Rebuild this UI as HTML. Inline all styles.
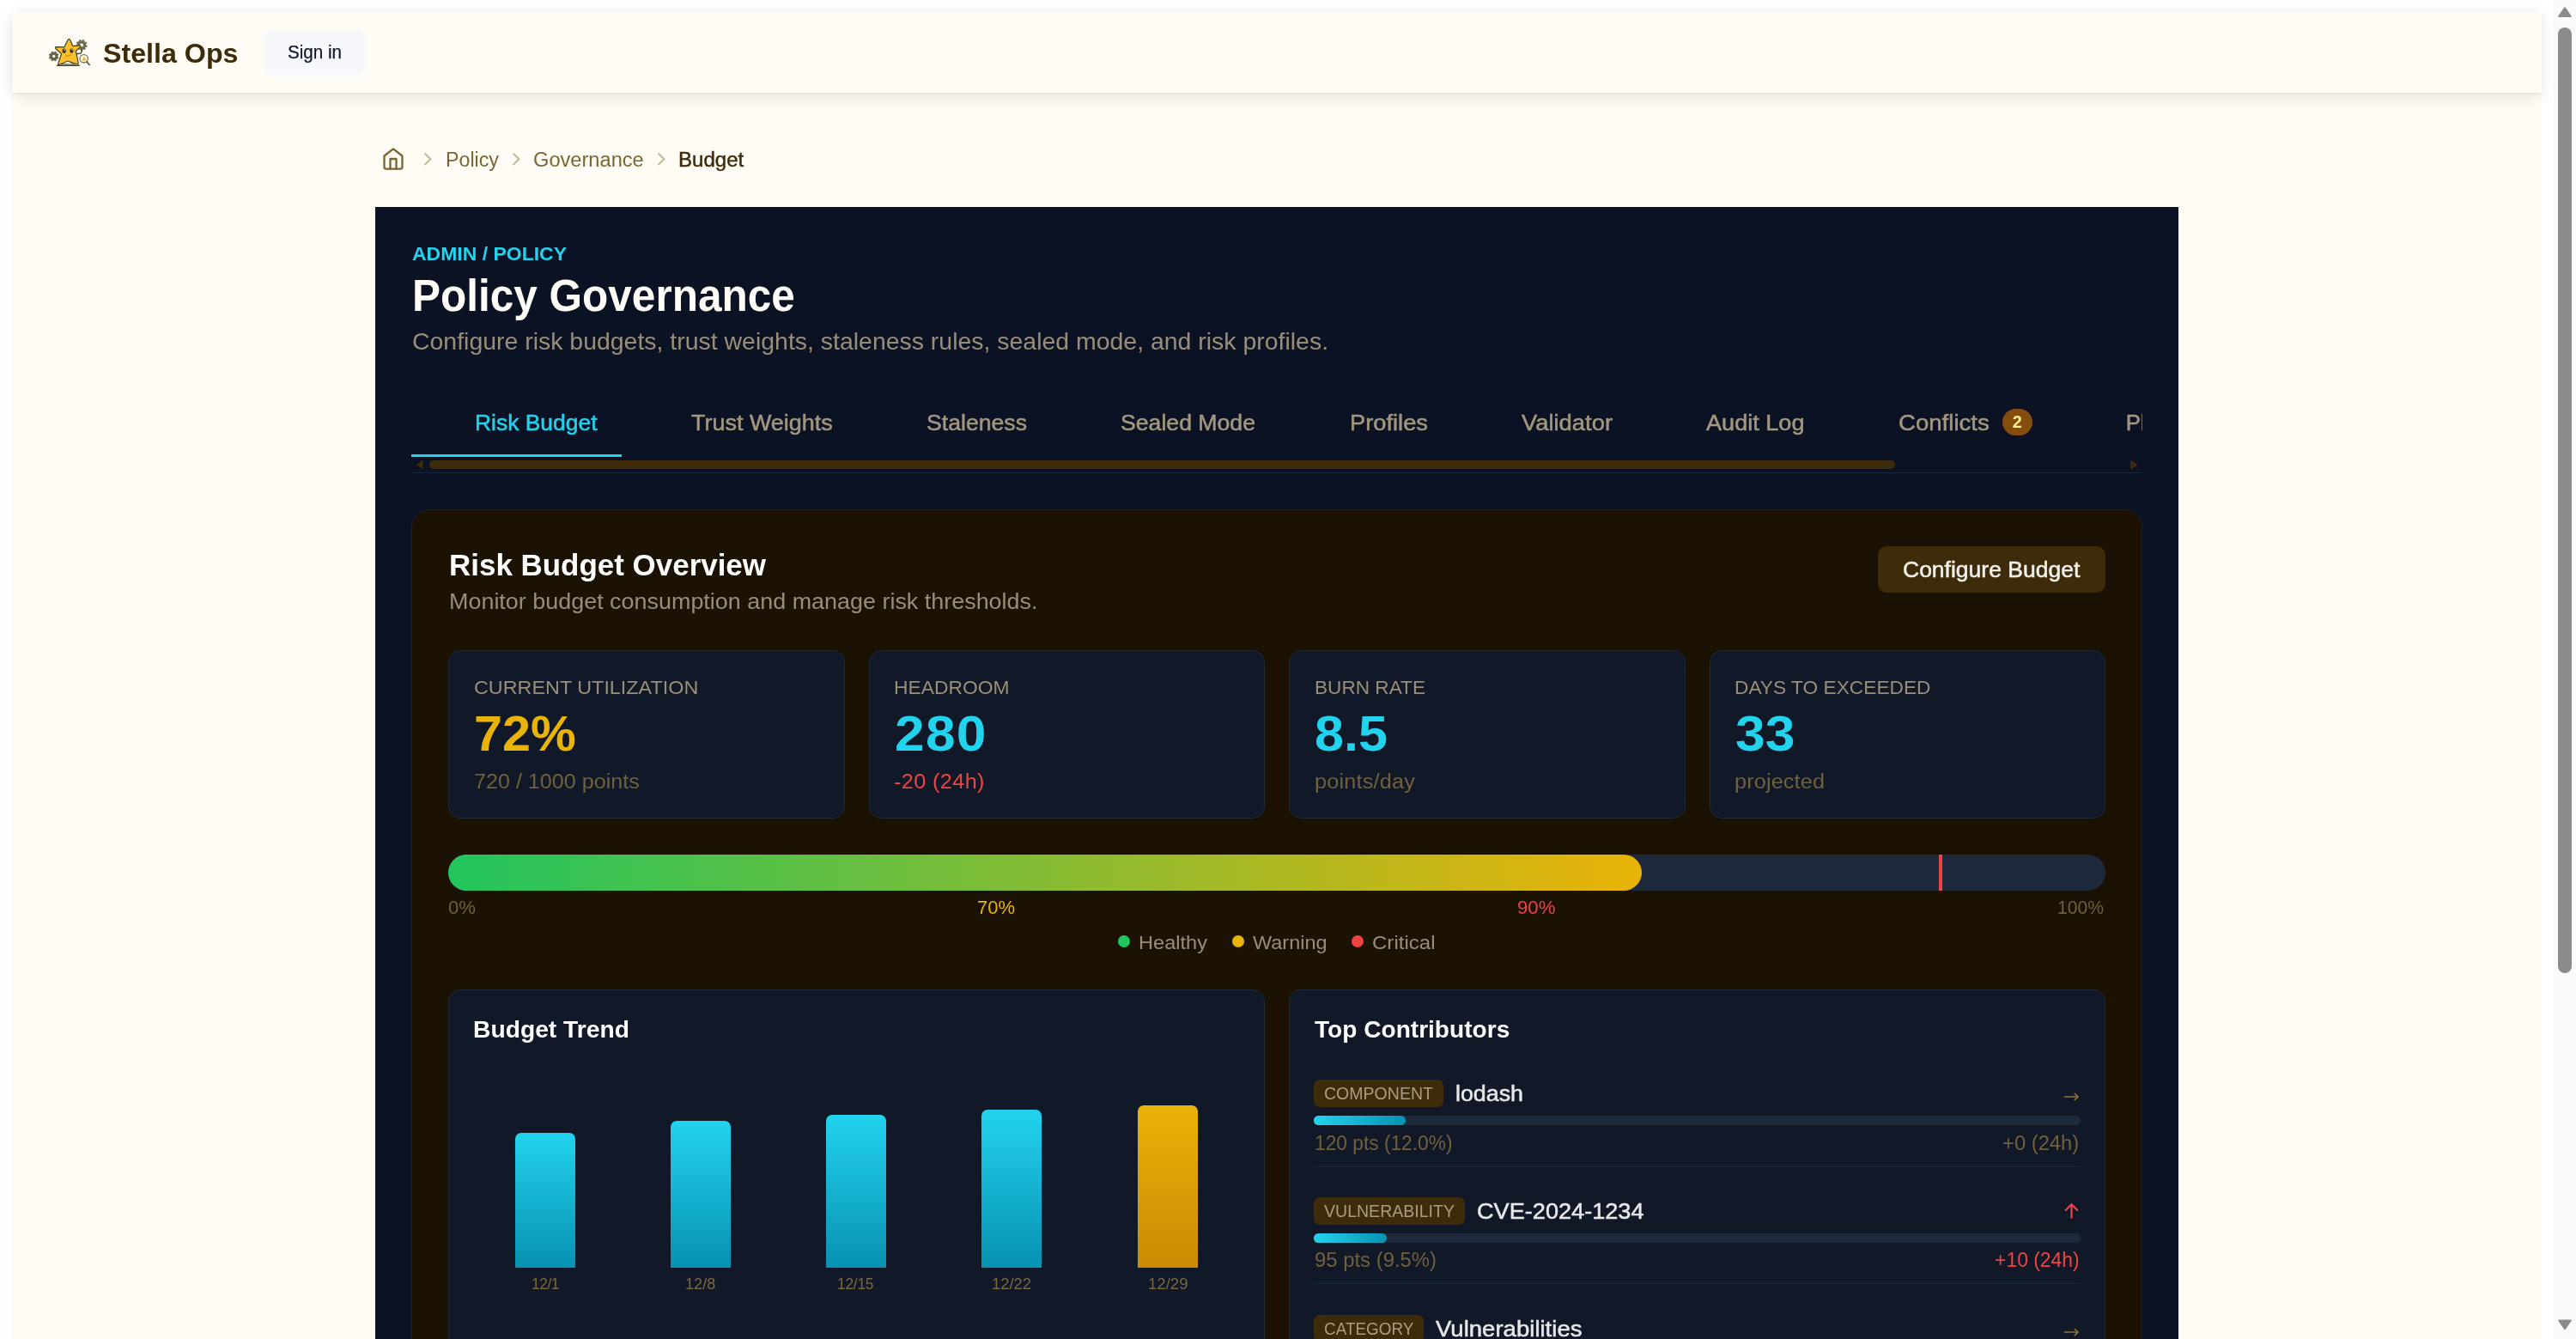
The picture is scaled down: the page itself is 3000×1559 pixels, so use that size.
<!DOCTYPE html>
<html lang="en"><head><meta charset="utf-8"><title>Stella Ops - Policy Governance</title>
<style>
html,body{margin:0;padding:0;background:#fff;overflow:hidden}
body{position:relative;width:3000px;height:1559px;font-family:"Liberation Sans",sans-serif}
.r{position:absolute;display:block}
.t{position:absolute;white-space:nowrap;display:block;transform-origin:0 50%}
#w{position:absolute;left:0;top:0;width:3000px;height:1559px;overflow:hidden;will-change:transform}
</style></head>
<body>
<div id="w">
<div class="r " style="left:14px;top:14px;width:2945.75px;height:1560px;background:#fffcf5;"></div>
<div class="r " style="left:14px;top:14px;width:2945.75px;height:94px;background:#fffcf5;box-shadow:0 4px 16px rgba(20,15,5,.11),0 1px 3px rgba(20,15,5,.05);"></div>
<svg class="r" style="left:50px;top:38px" width="64" height="44" viewBox="50 38 64 44">
<g stroke-linejoin="round" stroke-linecap="round">
<path d="M67.14 66.20L68.21 66.96L67.63 68.36L66.34 68.15L65.35 69.14L65.56 70.43L64.16 71.01L63.40 69.94L62.00 69.94L61.24 71.01L59.84 70.43L60.05 69.14L59.06 68.15L57.77 68.36L57.19 66.96L58.26 66.20L58.26 64.80L57.19 64.04L57.77 62.64L59.06 62.85L60.05 61.86L59.84 60.57L61.24 59.99L62.00 61.06L63.40 61.06L64.16 59.99L65.56 60.57L65.35 61.86L66.34 62.85L67.63 62.64L68.21 64.04L67.14 64.80Z" fill="#62644a" stroke="#62644a" stroke-width=".6"/>
<circle cx="62.7" cy="65.5" r="1.7" fill="#fffcf5"/>
<path d="M100.10 52.45L101.38 53.02L101.08 54.51L99.68 54.53L98.94 55.74L99.55 57.00L98.37 57.94L97.28 57.06L95.93 57.51L95.60 58.87L94.08 58.83L93.81 57.46L92.49 56.94L91.36 57.76L90.22 56.76L90.90 55.54L90.22 54.29L88.83 54.19L88.60 52.69L89.91 52.19L90.19 50.80L89.18 49.83L89.97 48.54L91.30 48.99L92.41 48.11L92.26 46.72L93.70 46.23L94.42 47.43L95.84 47.47L96.62 46.31L98.03 46.86L97.81 48.25L98.88 49.19L100.22 48.80L100.94 50.13L99.89 51.05Z" fill="#6a6c52" stroke="#6a6c52" stroke-width=".6"/>
<circle cx="95" cy="52.5" r="2" fill="#fffcf5"/>
<path d="M89.6 62.4c4.400.5 6.200-.7 5.800-4.800" fill="none" stroke="#3d4023" stroke-width="1.500"/>
<path d="M66.6 76.300H92.300" stroke="#3d4023" stroke-width="1.500" fill="none"/>
<path d="M80.400 45.700c.9 0 1.300.6 1.700 1.600l2.600 6.300 7.600-.7c1.600-.1 2 .9.900 2l-4.900 4.600 2.900 13.300c.3 1.500-.5 2.400-1.800 1.700L79 71.300l-9.600 3.900c-1.300.5-2-.3-1.500-1.800l3.700-10.600-6.600-6c-1.100-1.100-.6-2.100.9-2.100l8.900.2 3.800-7.600c.5-1 .9-1.600 1.800-1.600z" fill="#fcc02e" stroke="#3d4023" stroke-width="1.200"/>
<path d="M71.500 74.300L79 71.200l8 3.800z" fill="#fffcf5" stroke="#3d4023" stroke-width=".8"/>
<ellipse cx="74.700" cy="59.300" rx="2.200" ry="2.700" fill="#33361d"/>
<ellipse cx="83.400" cy="59.100" rx="2.100" ry="2.700" fill="#33361d"/>
<circle cx="75.300" cy="58.200" r=".7" fill="#fff"/><circle cx="83.800" cy="58" r=".7" fill="#fff"/>
<path d="M76.400 64.100c1.700 1.700 4.600 1.600 6.800-.8" fill="none" stroke="#9a7a14" stroke-width=".9"/>
<circle cx="97.700" cy="68.300" r="4.700" fill="#fbf8ee" stroke="#74765a" stroke-width="1.300"/>
<path d="M97.900 65.300l2.600 5.200h-5.200z" fill="#f2b52a"/>
<path d="M101.200 71.900l3 3.600" stroke="#4a4c30" stroke-width="1.600" fill="none"/>
</g></svg>
<span id="t1" class="t" style="left:120px;top:44px;font-size:32.13px;line-height:36px;color:#3d2b0a;font-weight:700;transform:scaleX(1.0024);">Stella Ops</span>
<div class="r " style="left:307px;top:35px;width:119.5px;height:52px;background:#f7f8fb;border-radius:10.5px;"></div>
<span id="t2" class="t" style="left:335px;top:49px;font-size:21.42px;line-height:24px;color:#0f172a;transform:scaleX(0.9625);-webkit-text-stroke:.25px #0f172a;">Sign in</span>
<svg class="r" style="left:443.7px;top:170.8px" width="28" height="28" viewBox="0 0 24 24" fill="none" stroke="#7a6633" stroke-width="2" stroke-linecap="round" stroke-linejoin="round"><path d="M3 9l9-7 9 7v11a2 2 0 0 1-2 2H5a2 2 0 0 1-2-2z"/><path d="M9 22V12h6v10"/></svg>
<svg class="r" style="left:486.25px;top:172.9px" width="24.5" height="24.5" viewBox="0 0 24 24" fill="none" stroke="#c2b697" stroke-width="2" stroke-linecap="round" stroke-linejoin="round"><path d="M9 18l6-6-6-6"/></svg>
<svg class="r" style="left:589px;top:172.9px" width="24.5" height="24.5" viewBox="0 0 24 24" fill="none" stroke="#c2b697" stroke-width="2" stroke-linecap="round" stroke-linejoin="round"><path d="M9 18l6-6-6-6"/></svg>
<svg class="r" style="left:758.15px;top:172.9px" width="24.5" height="24.5" viewBox="0 0 24 24" fill="none" stroke="#c2b697" stroke-width="2" stroke-linecap="round" stroke-linejoin="round"><path d="M9 18l6-6-6-6"/></svg>
<span id="t3" class="t" style="left:518.75px;top:173px;font-size:23.21px;line-height:26px;color:#7a6633;transform:scaleX(1.0015);">Policy</span>
<span id="t4" class="t" style="left:621.25px;top:173px;font-size:23.21px;line-height:26px;color:#7a6633;transform:scaleX(1.0185);">Governance</span>
<span id="t5" class="t" style="left:790px;top:173px;font-size:23.21px;line-height:26px;color:#3d2b0a;-webkit-text-stroke:0.46px #3d2b0a;transform:scaleX(1.0368);">Budget</span>
<div class="r " style="left:437px;top:241px;width:2100px;height:1330px;background:#0b1223;"></div>
<span id="t6" class="t" style="left:479.5px;top:284px;font-size:21.42px;line-height:24px;color:#22d3ee;font-weight:700;transform:scaleX(1.0734);">ADMIN / POLICY</span>
<span id="t7" class="t" style="left:480px;top:315px;font-size:51.41px;line-height:58px;color:#fffdf8;font-weight:700;transform:scaleX(0.963);">Policy Governance</span>
<span id="t8" class="t" style="left:479.5px;top:382px;font-size:27.13px;line-height:31px;color:#9a8e78;transform:scaleX(1.0485);">Configure risk budgets, trust weights, staleness rules, sealed mode, and risk profiles.</span>
<span id="t9" class="t" style="left:552.75px;top:478px;font-size:25.7px;line-height:28px;color:#22d3ee;-webkit-text-stroke:0.51px #22d3ee;transform:scaleX(1.0289);">Risk Budget</span>
<span id="t10" class="t" style="left:805.25px;top:478px;font-size:25.7px;line-height:28px;color:#a3977f;-webkit-text-stroke:0.51px #a3977f;transform:scaleX(1.0492);">Trust Weights</span>
<span id="t11" class="t" style="left:1079px;top:478px;font-size:25.7px;line-height:28px;color:#a3977f;-webkit-text-stroke:0.51px #a3977f;transform:scaleX(1.0371);">Staleness</span>
<span id="t12" class="t" style="left:1305px;top:478px;font-size:25.7px;line-height:28px;color:#a3977f;-webkit-text-stroke:0.51px #a3977f;transform:scaleX(1.0371);">Sealed Mode</span>
<span id="t13" class="t" style="left:1571.5px;top:478px;font-size:25.7px;line-height:28px;color:#a3977f;-webkit-text-stroke:0.51px #a3977f;transform:scaleX(1.0624);">Profiles</span>
<span id="t14" class="t" style="left:1771.5px;top:478px;font-size:25.7px;line-height:28px;color:#a3977f;-webkit-text-stroke:0.51px #a3977f;transform:scaleX(1.0655);">Validator</span>
<span id="t15" class="t" style="left:1986.5px;top:478px;font-size:25.7px;line-height:28px;color:#a3977f;-webkit-text-stroke:0.51px #a3977f;transform:scaleX(1.0548);">Audit Log</span>
<span id="t16" class="t" style="left:2211.25px;top:478px;font-size:25.7px;line-height:28px;color:#a3977f;-webkit-text-stroke:0.51px #a3977f;transform:scaleX(1.0736);">Conflicts</span>
<div class="r" style="left:2460px;top:460px;width:34.5px;height:70px;overflow:hidden">
<span id="t17" class="t" style="left:15.75px;top:18px;font-size:25.7px;line-height:28px;color:#a3977f;-webkit-text-stroke:0.51px #a3977f;">Playground</span>
</div>
<div class="r " style="left:2331.75px;top:475.75px;width:35px;height:31.25px;background:#854d0e;border-radius:16px;"></div>
<span id="t18" class="t" style="left:2343.69px;top:480px;font-size:19.99px;line-height:22px;color:#fef08a;font-weight:700;">2</span>
<div class="r " style="left:479px;top:528.5px;width:244.75px;height:3.5px;background:#22d3ee;"></div>
<div class="r " style="left:500px;top:536px;width:1706.75px;height:10.25px;background:#3d2b0a;border-radius:5.2px;"></div>
<svg class="r" style="left:479px;top:534px" width="21" height="14" viewBox="0 0 21 14"><path d="M5.500 7l8-5.400v10.800z" fill="#3d2b0a"/></svg>
<svg class="r" style="left:2473.500px;top:534px" width="21" height="14" viewBox="0 0 21 14"><path d="M16 7.300l-9-5.700v11.400z" fill="#3d2b0a"/></svg>
<div class="r " style="left:479px;top:549.5px;width:2016px;height:1.5px;background:#1b2538;"></div>
<div class="r " style="left:479px;top:593px;width:2016px;height:1000px;background:#1b1203;border:1.75px solid #1a2337;border-radius:21px;box-sizing:border-box;"></div>
<span id="t19" class="t" style="left:523px;top:638px;font-size:35.7px;line-height:40px;color:#ffffff;font-weight:700;transform:scaleX(0.9792);">Risk Budget Overview</span>
<span id="t20" class="t" style="left:523px;top:686px;font-size:25.7px;line-height:28px;color:#9a8e78;transform:scaleX(1.0482);">Monitor budget consumption and manage risk thresholds.</span>
<div class="r " style="left:2186.75px;top:635.75px;width:265px;height:54px;background:#3d2b0a;border-radius:10.5px;"></div>
<span id="t21" class="t" style="left:2216.25px;top:649px;font-size:25.7px;line-height:28px;color:#f3f1ec;-webkit-text-stroke:0.51px #f3f1ec;transform:scaleX(1.0316);">Configure Budget</span>
<div class="r " style="left:522px;top:757px;width:461.5px;height:195.5px;background:#111827;border:1.75px solid #1e293b;border-radius:14px;box-sizing:border-box;"></div>
<span id="t22" class="t" style="left:551.5px;top:787px;font-size:22.85px;line-height:26px;color:#9a8e78;transform:scaleX(1.0224);">CURRENT UTILIZATION</span>
<span id="t23" class="t" style="left:552.25px;top:822px;font-size:57.12px;line-height:64px;color:#eab308;font-weight:700;transform:scaleX(1.0388);">72%</span>
<span id="t24" class="t" style="left:551.5px;top:897px;font-size:23.21px;line-height:26px;color:#70603c;transform:scaleX(1.0826);">720 / 1000 points</span>
<div class="r " style="left:1011.5px;top:757px;width:461.5px;height:195.5px;background:#111827;border:1.75px solid #1e293b;border-radius:14px;box-sizing:border-box;"></div>
<span id="t25" class="t" style="left:1041px;top:787px;font-size:22.85px;line-height:26px;color:#9a8e78;transform:scaleX(0.9998);">HEADROOM</span>
<span id="t26" class="t" style="left:1041.75px;top:822px;font-size:57.12px;line-height:64px;color:#22d3ee;font-weight:700;letter-spacing:1.205px;transform:scaleX(1.09);">280</span>
<span id="t27" class="t" style="left:1041px;top:897px;font-size:23.21px;line-height:26px;color:#ef4444;letter-spacing:0.329px;transform:scaleX(1.09);">-20 (24h)</span>
<div class="r " style="left:1501px;top:757px;width:461.5px;height:195.5px;background:#111827;border:1.75px solid #1e293b;border-radius:14px;box-sizing:border-box;"></div>
<span id="t28" class="t" style="left:1530.5px;top:787px;font-size:22.85px;line-height:26px;color:#9a8e78;transform:scaleX(0.9899);">BURN RATE</span>
<span id="t29" class="t" style="left:1531.25px;top:822px;font-size:57.12px;line-height:64px;color:#22d3ee;font-weight:700;transform:scaleX(1.0707);">8.5</span>
<span id="t30" class="t" style="left:1530.5px;top:897px;font-size:23.21px;line-height:26px;color:#70603c;letter-spacing:0.173px;transform:scaleX(1.09);">points/day</span>
<div class="r " style="left:1990.5px;top:757px;width:461.5px;height:195.5px;background:#111827;border:1.75px solid #1e293b;border-radius:14px;box-sizing:border-box;"></div>
<span id="t31" class="t" style="left:2020px;top:787px;font-size:22.85px;line-height:26px;color:#9a8e78;transform:scaleX(0.9944);">DAYS TO EXCEEDED</span>
<span id="t32" class="t" style="left:2020.75px;top:822px;font-size:57.12px;line-height:64px;color:#22d3ee;font-weight:700;letter-spacing:0.23px;transform:scaleX(1.09);">33</span>
<span id="t33" class="t" style="left:2020px;top:897px;font-size:23.21px;line-height:26px;color:#70603c;letter-spacing:0.11px;transform:scaleX(1.09);">projected</span>
<div class="r " style="left:522px;top:995px;width:1930px;height:42px;background:#1e293b;border-radius:21px;"></div>
<div class="r " style="left:522px;top:995px;width:1390px;height:42px;background:#22c55e;border-radius:21px;background:linear-gradient(90deg,#22c55e 0%,#eab308 100%);"></div>
<div class="r " style="left:2258.4px;top:995px;width:3.8px;height:42px;background:#ef4444;"></div>
<span id="t34" class="t" style="left:522px;top:1045px;font-size:21.42px;line-height:24px;color:#70603c;transform:scaleX(1.0338);">0%</span>
<span id="t35" class="t" style="left:1138px;top:1045px;font-size:21.42px;line-height:24px;color:#eab308;transform:scaleX(1.0266);">70%</span>
<span id="t36" class="t" style="left:1767px;top:1045px;font-size:21.42px;line-height:24px;color:#ef4444;transform:scaleX(1.0383);">90%</span>
<span id="t37" class="t" style="left:2395.5px;top:1045px;font-size:21.42px;line-height:24px;color:#70603c;transform:scaleX(0.9863);">100%</span>
<div class="r " style="left:1302px;top:1088.9px;width:14.25px;height:14.25px;background:#22c55e;border-radius:50%;"></div>
<span id="t38" class="t" style="left:1325.75px;top:1085px;font-size:22.13px;line-height:25px;color:#9a8e78;transform:scaleX(1.0662);">Healthy</span>
<div class="r " style="left:1434.75px;top:1088.9px;width:14.25px;height:14.25px;background:#eab308;border-radius:50%;"></div>
<span id="t39" class="t" style="left:1459px;top:1085px;font-size:22.13px;line-height:25px;color:#9a8e78;transform:scaleX(1.0603);">Warning</span>
<div class="r " style="left:1573.75px;top:1088.9px;width:14.25px;height:14.25px;background:#ef4444;border-radius:50%;"></div>
<span id="t40" class="t" style="left:1598px;top:1085px;font-size:22.13px;line-height:25px;color:#9a8e78;transform:scaleX(1.0871);">Critical</span>
<div class="r " style="left:522px;top:1152px;width:950.5px;height:500px;background:#111827;border:1.75px solid #1e293b;border-radius:14px;box-sizing:border-box;"></div>
<div class="r " style="left:1501px;top:1152px;width:950.5px;height:500px;background:#111827;border:1.75px solid #1e293b;border-radius:14px;box-sizing:border-box;"></div>
<span id="t41" class="t" style="left:551px;top:1182px;font-size:28.56px;line-height:32px;color:#ffffff;font-weight:700;transform:scaleX(0.9893);">Budget Trend</span>
<span id="t42" class="t" style="left:1530.75px;top:1182px;font-size:28.56px;line-height:32px;color:#ffffff;font-weight:700;transform:scaleX(0.9839);">Top Contributors</span>
<div class="r " style="left:600px;top:1318.5px;width:70px;height:157.25px;background:#22d3ee;border-radius:7px 7px 0 0;background:linear-gradient(180deg,#22d3ee 0%,#0891b2 100%);"></div>
<span id="t43" class="t" style="left:618.75px;top:1484px;font-size:18.56px;line-height:21px;color:#7b683f;letter-spacing:-0.512px;transform:scaleX(0.94);">12/1</span>
<div class="r " style="left:780.75px;top:1304.5px;width:70px;height:171.25px;background:#22d3ee;border-radius:7px 7px 0 0;background:linear-gradient(180deg,#22d3ee 0%,#0891b2 100%);"></div>
<span id="t44" class="t" style="left:798.13px;top:1484px;font-size:18.56px;line-height:21px;color:#7b683f;transform:scaleX(0.9762);">12/8</span>
<div class="r " style="left:961.5px;top:1297.5px;width:70px;height:178.25px;background:#22d3ee;border-radius:7px 7px 0 0;background:linear-gradient(180deg,#22d3ee 0%,#0891b2 100%);"></div>
<span id="t45" class="t" style="left:975.25px;top:1484px;font-size:18.56px;line-height:21px;color:#7b683f;letter-spacing:-0.302px;transform:scaleX(0.94);">12/15</span>
<div class="r " style="left:1143.25px;top:1291.5px;width:70px;height:184.25px;background:#22d3ee;border-radius:7px 7px 0 0;background:linear-gradient(180deg,#22d3ee 0%,#0891b2 100%);"></div>
<span id="t46" class="t" style="left:1155.25px;top:1484px;font-size:18.56px;line-height:21px;color:#7b683f;transform:scaleX(0.9909);">12/22</span>
<div class="r " style="left:1325px;top:1286.75px;width:70px;height:189px;background:#22d3ee;border-radius:7px 7px 0 0;background:linear-gradient(180deg,#eab308 0%,#ca8a04 100%);"></div>
<span id="t47" class="t" style="left:1336.75px;top:1484px;font-size:18.56px;line-height:21px;color:#7b683f;transform:scaleX(1.0017);">12/29</span>
<div class="r " style="left:1530px;top:1257px;width:150.5px;height:31.5px;background:#3d2b0a;border-radius:7px;"></div>
<span id="t48" class="t" style="left:1541.5px;top:1262px;font-size:19.99px;line-height:22px;color:#a89c84;transform:scaleX(0.9776);">COMPONENT</span>
<span id="t49" class="t" style="left:1695px;top:1259px;font-size:25.7px;line-height:28px;color:#e8e8ea;-webkit-text-stroke:0.51px #e8e8ea;transform:scaleX(1.0436);">lodash</span>
<svg class="r" style="left:2400px;top:1267px" width="24" height="20" viewBox="0 0 24 20" fill="none" stroke="#8a7341" stroke-width="1.500" stroke-linecap="round" stroke-linejoin="round"><path d="M4.200 10h16M16.200 6.400l4 3.600-4 3.600"/></svg>
<div class="r " style="left:1530px;top:1299px;width:892.5px;height:10.5px;background:#1e293b;border-radius:5.250px;"></div>
<div class="r " style="left:1530px;top:1299px;width:107.1px;height:10.5px;background:#22d3ee;border-radius:5.250px;background:linear-gradient(90deg,#22d3ee,#0891b2);"></div>
<span id="t50" class="t" style="left:1530.75px;top:1318px;font-size:23.21px;line-height:26px;color:#70603c;transform:scaleX(0.9798);">120 pts (12.0%)</span>
<span id="t51" class="t" style="left:2332.00px;top:1318px;font-size:23.21px;line-height:26px;color:#70603c;transform:scaleX(1.0249);">+0 (24h)</span>
<div class="r " style="left:1530px;top:1357.5px;width:892.5px;height:1.5px;background:#1c2639;"></div>
<div class="r " style="left:1530px;top:1394px;width:175.5px;height:31.5px;background:#3d2b0a;border-radius:7px;"></div>
<span id="t52" class="t" style="left:1541.5px;top:1399px;font-size:19.99px;line-height:22px;color:#a89c84;transform:scaleX(0.9776);">VULNERABILITY</span>
<span id="t53" class="t" style="left:1720px;top:1396px;font-size:25.7px;line-height:28px;color:#e8e8ea;-webkit-text-stroke:0.51px #e8e8ea;transform:scaleX(1.0558);">CVE-2024-1234</span>
<svg class="r" style="left:2400px;top:1400.4px" width="24" height="28" viewBox="0 0 24 28" fill="none" stroke="#ef4444" stroke-width="2.200" stroke-linecap="round" stroke-linejoin="round"><path d="M12.500 17.800V2.200M5.700 9l6.800-6.800L19.300 9"/></svg>
<div class="r " style="left:1530px;top:1436px;width:892.5px;height:10.5px;background:#1e293b;border-radius:5.250px;"></div>
<div class="r " style="left:1530px;top:1436px;width:84.7875px;height:10.5px;background:#22d3ee;border-radius:5.250px;background:linear-gradient(90deg,#22d3ee,#0891b2);"></div>
<span id="t54" class="t" style="left:1530.75px;top:1454px;font-size:23.21px;line-height:26px;color:#70603c;transform:scaleX(1.029);">95 pts (9.5%)</span>
<span id="t55" class="t" style="left:2322.50px;top:1454px;font-size:23.21px;line-height:26px;color:#ef4444;transform:scaleX(0.9877);">+10 (24h)</span>
<div class="r " style="left:1530px;top:1493.5px;width:892.5px;height:1.5px;background:#1c2639;"></div>
<div class="r " style="left:1530px;top:1531px;width:127.5px;height:31.5px;background:#3d2b0a;border-radius:7px;"></div>
<span id="t56" class="t" style="left:1541.5px;top:1536px;font-size:19.99px;line-height:22px;color:#a89c84;transform:scaleX(0.9473);">CATEGORY</span>
<span id="t57" class="t" style="left:1672px;top:1533px;font-size:25.7px;line-height:28px;color:#e8e8ea;-webkit-text-stroke:0.51px #e8e8ea;transform:scaleX(1.0725);">Vulnerabilities</span>
<svg class="r" style="left:2400px;top:1541px" width="24" height="20" viewBox="0 0 24 20" fill="none" stroke="#8a7341" stroke-width="1.500" stroke-linecap="round" stroke-linejoin="round"><path d="M4.200 10h16M16.200 6.400l4 3.600-4 3.600"/></svg>
<div class="r " style="left:1530px;top:1573px;width:892.5px;height:10.5px;background:#1e293b;border-radius:5.250px;"></div>
<div class="r " style="left:1530px;top:1573px;width:71.4px;height:10.5px;background:#22d3ee;border-radius:5.250px;background:linear-gradient(90deg,#22d3ee,#0891b2);"></div>
<span id="t58" class="t" style="left:1530.75px;top:1590px;font-size:23.21px;line-height:26px;color:#70603c;transform:scaleX(1.029);">80 pts (8.0%)</span>
<span id="t59" class="t" style="left:2332.00px;top:1590px;font-size:23.21px;line-height:26px;color:#70603c;transform:scaleX(1.0249);">+0 (24h)</span>
<div class="r " style="left:1530px;top:1629.5px;width:892.5px;height:1.5px;background:#1c2639;"></div>
<div class="r " style="left:2974px;top:0px;width:26px;height:1559px;background:#fafafa;"></div>
<div class="r " style="left:2979px;top:32px;width:16px;height:1101px;background:#8b8b8b;border-radius:8px;"></div>
<svg class="r" style="left:2974px;top:0" width="26" height="28" viewBox="0 0 26 28"><path d="M13 9.200l6.800 9.800H6.200z" fill="#8b8b8b" stroke="#8b8b8b" stroke-width="2" stroke-linejoin="round"/></svg>
<svg class="r" style="left:2974px;top:1531px" width="26" height="28" viewBox="0 0 26 28"><path d="M13 16.300l6.800-9.800H6.200z" fill="#8b8b8b" stroke="#8b8b8b" stroke-width="2" stroke-linejoin="round"/></svg>
</div>
</body></html>
